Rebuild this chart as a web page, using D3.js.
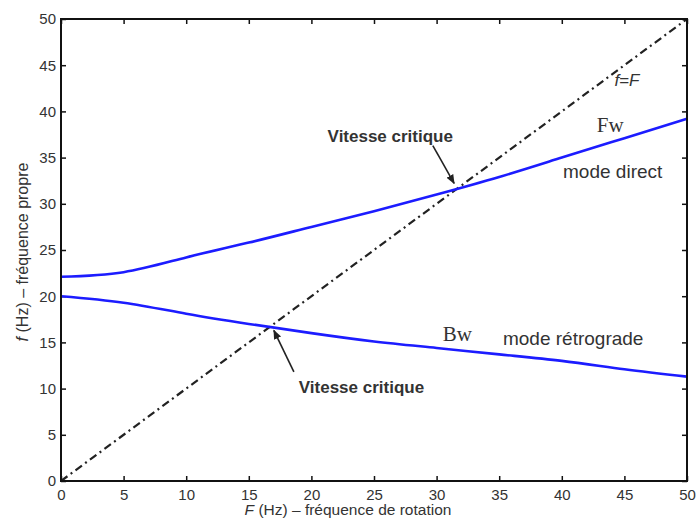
<!DOCTYPE html>
<html>
<head>
<meta charset="utf-8">
<script src="https://cdn.jsdelivr.net/npm/d3@7"></script>
<style>
  body { margin: 0; background: #fff; }
  svg { display: block; }
  text { font-family: "Liberation Sans", Arial, sans-serif; fill: #333; }
</style>
</head>
<body>
<div id="chart"></div>
<script>
// Campbell diagram: natural frequency vs rotation frequency

const rotation = [0, 5, 10, 15, 20, 25, 30, 35, 40, 45, 50];
const forwardMode = [22.1, 22.6, 24.2, 25.8, 27.5, 29.2, 31.0, 32.9, 35.0, 37.1, 39.2];
const backwardMode = [20.0, 19.3, 18.1, 17.0, 16.0, 15.1, 14.4, 13.7, 13.0, 12.1, 11.3];
const diagonal = [0, 50];
const xTicks = [0, 5, 10, 15, 20, 25, 30, 35, 40, 45, 50];
const yTicks = [0, 5, 10, 15, 20, 25, 30, 35, 40, 45, 50];

// critical speed annotations: label centre, arrow tail, arrow head (data units)
const criticalUpper = { text: [26.3, 36.7], tail: [29.7, 36.3], head: [31.4, 32.2] };
const criticalLower = { text: [24.0, 9.5], tail: [18.6, 11.8], head: [17.0, 16.3] };

const width = 696, height = 522;
const margin = { top: 19, right: 9, bottom: 41, left: 61 };
const innerWidth = width - margin.left - margin.right;
const innerHeight = height - margin.top - margin.bottom;

const svg = d3.select("#chart").append("svg")
  .attr("width", width)
  .attr("height", height);

const defs = svg.append("defs");
defs.append("marker")
  .attr("id", "arrow")
  .attr("viewBox", "0 0 10 10")
  .attr("refX", 9).attr("refY", 5)
  .attr("markerWidth", 6).attr("markerHeight", 6)
  .attr("orient", "auto")
  .append("path")
  .attr("d", "M0,1 L10,5 L0,9 z")
  .attr("fill", "#222");

const g = svg.append("g")
  .attr("transform", `translate(${margin.left},${margin.top})`);

const x = d3.scaleLinear().domain([0, 50]).range([0, innerWidth]);
const y = d3.scaleLinear().domain([0, 50]).range([innerHeight, 0]);

// axes, MATLAB style ticks pointing inward
const styleAxis = (sel) => {
  sel.select(".domain").remove();
  sel.selectAll(".tick line").attr("stroke", "#111").attr("stroke-width", 1.5);
  sel.selectAll(".tick text").style("font-size", "15px").attr("fill", "#444");
};

g.append("g")
  .attr("transform", `translate(0,${innerHeight})`)
  .call(d3.axisBottom(x).tickValues(xTicks).tickSize(-5).tickPadding(8))
  .call(styleAxis);

g.append("g")
  .call(d3.axisLeft(y).tickValues(yTicks).tickSize(-5).tickPadding(5))
  .call(styleAxis);

g.append("g")
  .call(d3.axisTop(x).tickValues(xTicks).tickSize(-5).tickFormat(""))
  .call(styleAxis);

g.append("g")
  .attr("transform", `translate(${innerWidth},0)`)
  .call(d3.axisRight(y).tickValues(yTicks).tickSize(-5).tickFormat(""))
  .call(styleAxis);

// f = F reference line
const line = d3.line().x((d) => x(d[0])).y((d) => y(d[1]));

g.append("path")
  .datum(diagonal.map((v) => [v, v]))
  .attr("d", line)
  .attr("fill", "none")
  .attr("stroke", "#222")
  .attr("stroke-width", 2.2)
  .attr("stroke-dasharray", "8,4,2,4");

const curve = d3.line()
  .x((d) => x(d[0]))
  .y((d) => y(d[1]))
  .curve(d3.curveNatural);

[forwardMode, backwardMode].forEach((series) => {
  g.append("path")
    .datum(rotation.map((r, i) => [r, series[i]]))
    .attr("d", curve)
    .attr("fill", "none")
    .attr("stroke", "#1c1cff")
    .attr("stroke-width", 2.6);
});

// frame
g.append("rect")
  .attr("width", innerWidth)
  .attr("height", innerHeight)
  .attr("fill", "none")
  .attr("stroke", "#111")
  .attr("stroke-width", 2);

// annotations
[criticalUpper, criticalLower].forEach((a) => {
  g.append("text")
    .attr("x", x(a.text[0]))
    .attr("y", y(a.text[1]))
    .attr("text-anchor", "middle")
    .style("font-size", "17px")
    .style("font-weight", "bold")
    .text("Vitesse critique");

  g.append("line")
    .attr("x1", x(a.tail[0])).attr("y1", y(a.tail[1]))
    .attr("x2", x(a.head[0])).attr("y2", y(a.head[1]))
    .attr("stroke", "#222")
    .attr("stroke-width", 1.6)
    .attr("marker-end", "url(#arrow)");
});

g.append("text")
  .attr("x", x(44.2)).attr("y", y(42.7))
  .style("font-size", "17px")
  .style("font-style", "italic")
  .text("f=F");

g.append("text")
  .attr("x", x(42.8)).attr("y", y(37.8))
  .style("font-size", "21px")
  .style("font-family", "'Liberation Serif', 'Times New Roman', serif")
  .attr("fill", "#111")
  .text("Fw");

g.append("text")
  .attr("x", x(40.1)).attr("y", y(32.8))
  .style("font-size", "19px")
  .text("mode direct");

g.append("text")
  .attr("x", x(30.5)).attr("y", y(15.1))
  .style("font-size", "21px")
  .style("font-family", "'Liberation Serif', 'Times New Roman', serif")
  .attr("fill", "#111")
  .text("Bw");

g.append("text")
  .attr("x", x(35.3)).attr("y", y(14.7))
  .style("font-size", "19px")
  .text("mode rétrograde");

// axis titles
const xTitle = svg.append("text")
  .attr("x", 348)
  .attr("y", height - 7)
  .attr("text-anchor", "middle")
  .style("font-size", "15.5px")
  .attr("fill", "#444");
xTitle.append("tspan").style("font-style", "italic").text("F");
xTitle.append("tspan").text(" (Hz) – fréquence de rotation");

const yTitle = svg.append("text")
  .attr("transform", "translate(28,252) rotate(-90)")
  .attr("text-anchor", "middle")
  .style("font-size", "16px")
  .attr("fill", "#444");
yTitle.append("tspan").style("font-style", "italic").text("f");
yTitle.append("tspan").text(" (Hz) – fréquence propre");
</script>
</body>
</html>
